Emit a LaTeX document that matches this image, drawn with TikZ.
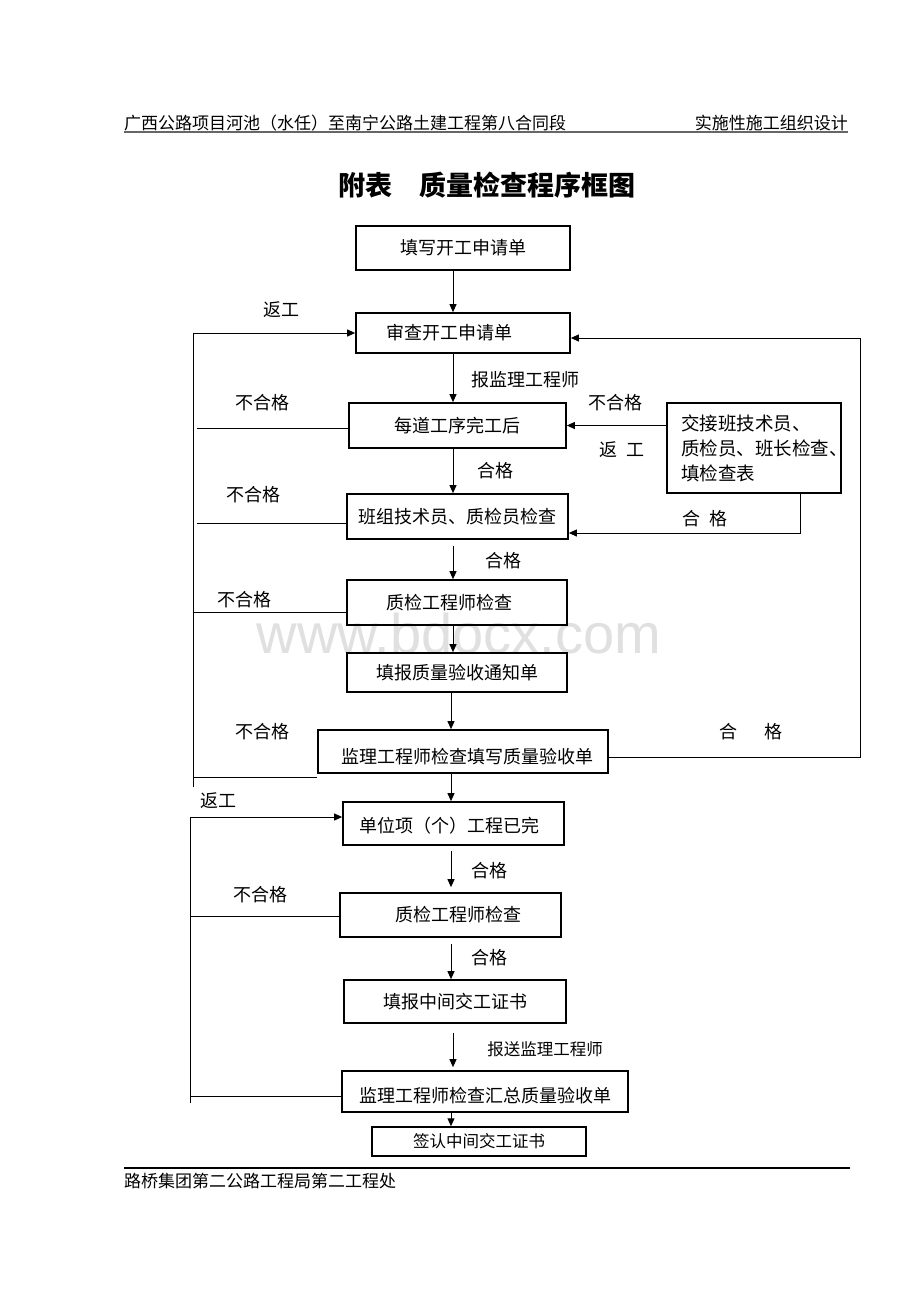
\documentclass[tikz,border=0pt]{standalone}
\usepackage{fontspec}
\setmainfont{Noto Sans CJK SC}
\newfontfamily\wmfont{Liberation Sans}
\usetikzlibrary{arrows.meta,calc}
\begin{document}
\begin{tikzpicture}[x=1pt,y=-1pt,
  box/.style={draw, line width=1.7pt, inner sep=0pt, font=\fontsize{18}{20}\selectfont},
  lbl/.style={inner sep=0pt, font=\fontsize{18}{20}\selectfont},
  small/.style={inner sep=0pt, font=\fontsize{16.5}{18}\selectfont},
  ln/.style={line width=1pt},
  arr/.style={line width=1pt, -{Triangle[length=8pt,width=7pt]}}]
\useasboundingbox[fill=white] (0,0) rectangle (920,1302);

% watermark
\node[inner sep=0pt, text=black!12, font=\wmfont\fontsize{56}{60}\selectfont] (wm) at (459,633) {www.bdocx.com};

% header
\node[anchor=west, small, font=\fontsize{17}{19}\selectfont] (hl) at (124,123) {广西公路项目河池（水任）至南宁公路土建工程第八合同段};
\node[anchor=east, small, font=\fontsize{17}{19}\selectfont] (hr) at (848,123) {实施性施工组织设计};
\coordinate (hla) at (124,132);
\coordinate (hlb) at (848,132);
\draw[line width=2.6pt, black!60] (hla) -- (hlb);
\node[inner sep=0pt, font=\fontsize{27}{30}\selectfont\bfseries] (title) at (487,185) {附表\hspace{27pt}质量检查程序框图};

% boxes
\node[box, minimum width=214pt, minimum height=44pt] (b1) at (463,248) {填写开工申请单};
\node[box, minimum width=214pt, minimum height=40pt, label={[lbl,xshift=-14pt]center:审查开工申请单}] (b2) at (463,333) {};
\node[box, minimum width=217pt, minimum height=45pt] (b3) at (457.5,425.5) {每道工序完工后};
\node[box, minimum width=221pt, minimum height=45pt] (b4) at (457.5,516.5) {班组技术员、质检员检查};
\node[box, minimum width=220pt, minimum height=45pt, label={[lbl,xshift=-8pt]center:质检工程师检查}] (b5) at (457,602.5) {};
\node[box, minimum width=220pt, minimum height=39pt] (b6) at (457,672.5) {填报质量验收通知单};
\node[box, minimum width=290pt, minimum height=43pt, label={[lbl,xshift=4pt,yshift=-5pt]center:监理工程师检查填写质量验收单}] (b7) at (463,751.5) {};
\node[box, minimum width=221pt, minimum height=43pt, label={[lbl,xshift=-4pt,yshift=-2pt]center:单位项（个）工程已完}] (b8) at (453.5,823.5) {};
\node[box, minimum width=221pt, minimum height=44pt, label={[lbl,xshift=8pt]center:质检工程师检查}] (b9) at (450.5,915) {};
\node[box, minimum width=222pt, minimum height=43pt] (b10) at (455,1001.5) {填报中间交工证书};
\node[box, minimum width=286pt, minimum height=41pt, label={[lbl,yshift=-4pt]center:监理工程师检查汇总质量验收单}] (b11) at (485,1091.5) {};
\node[box, line width=1.5pt, minimum width=214pt, minimum height=29pt, font=\fontsize{16.5}{18}\selectfont] (b12) at (479,1141.5) {签认中间交工证书};
\node[box, minimum width=174pt, minimum height=90pt] (rb) at (754,448) {};
\node[lbl, anchor=west, align=left, font=\fontsize{18.5}{25}\selectfont] (rbt) at (681,448) {交接班技术员、\\质检员、班长检查、\\填检查表};

% main vertical arrows
\coordinate (ax) at (453,0);
\coordinate (bx) at (451,0);
\draw[arr] (b1.south -| ax) -- (b2.north -| ax);
\draw[arr] (b2.south -| ax) -- (b3.north -| ax);
\draw[arr] (b3.south -| ax) -- (b4.north -| ax);
\draw[arr, shorten <=6pt] (b4.south -| ax) -- (b5.north -| ax);
\draw[arr] (b5.south -| ax) -- (b6.north -| ax);
\draw[arr] (b6.south -| bx) -- (b7.north -| bx);
\draw[arr] (b7.south -| bx) -- (b8.north -| bx);
\draw[arr, shorten <=5pt, shorten >=5pt] (b8.south -| bx) -- (b9.north -| bx);
\draw[arr, shorten <=6pt] (b9.south -| bx) -- (b10.north -| bx);
\draw[arr, shorten <=9pt, shorten >=3pt] (b10.south -| ax) -- (b11.north -| ax);
\draw[arr] (b11.south -| bx) -- (b12.north -| bx);

% labels on main axis
\node[lbl] (t1) at (525,380) {报监理工程师};
\node[lbl] (t2) at (495,471) {合格};
\node[lbl] (t3) at (503,561) {合格};
\node[lbl] (t4) at (489,871) {合格};
\node[lbl] (t5) at (489,958) {合格};
\node[small] (t6) at (545,1049) {报送监理工程师};

% left loop 1
\coordinate (l1t) at (193,333);
\coordinate (l1b) at (193,787);
\coordinate (l3) at (197,428);
\coordinate (l4) at (197,523);
\coordinate (l5) at (193,612);
\coordinate (l7) at (193,777);
\draw[ln] (l1b) -- (l1t);
\draw[arr] (l1t) -- (b2.west);
\draw[ln] (l3) -- (b3.west |- l3);
\draw[ln] (l4) -- (b4.west |- l4);
\draw[ln] (l5) -- (b5.west |- l5);
\draw[ln] (l7) -- (b7.west |- l7);
\node[lbl] (f1) at (281,310) {返工};
\node[lbl] (f2) at (262,403) {不合格};
\node[lbl] (f3) at (253,495) {不合格};
\node[lbl] (f4) at (244,600) {不合格};
\node[lbl] (f5) at (262,732) {不合格};

% right loop
\coordinate (r7) at (860,757);
\coordinate (r2) at (860,338);
\draw[arr] (b7.east |- r7) -- (r7) -- (r2) -- (b2.east |- r2);
\node[lbl] (g1) at (751,732) {合\hspace{27pt}格};

% right box connectors
\coordinate (rq) at (800,533);
\draw[arr] (rb.west |- b3.east) -- (b3.east);
\draw[arr] (rb.south -| rq) -- (rq) -- (b4.east |- rq);
\node[lbl] (g2) at (615,403) {不合格};
\node[lbl] (g3) at (622,450) {返\hspace{9pt}工};
\node[lbl] (g4) at (705,519) {合\hspace{9pt}格};

% left loop 2
\coordinate (l2t) at (190,817);
\coordinate (l2b) at (190,1103);
\coordinate (l9) at (190,916);
\coordinate (l11) at (190,1096);
\draw[ln] (l2b) -- (l2t);
\draw[arr] (l2t) -- (b8.west |- l2t);
\draw[ln] (l9) -- (b9.west |- l9);
\draw[ln] (l11) -- (b11.west |- l11);
\node[lbl] (h1) at (218,801) {返工};
\node[lbl] (h2) at (260,895) {不合格};

% footer
\coordinate (fa) at (124,1168);
\coordinate (fb) at (850,1168);
\draw[line width=1.8pt] (fa) -- (fb);
\node[anchor=west, small, font=\fontsize{17}{19}\selectfont] (ft) at (124,1181) {路桥集团第二公路工程局第二工程处};
\end{tikzpicture}
\end{document}
